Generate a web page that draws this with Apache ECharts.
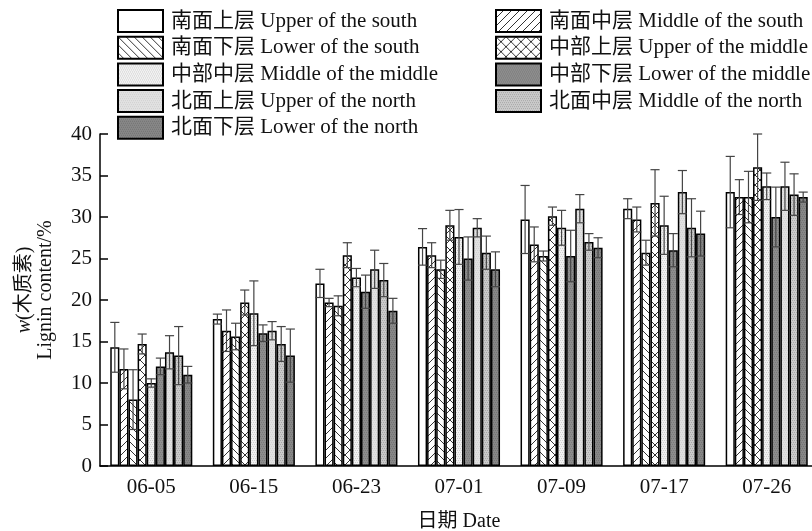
<!DOCTYPE html>
<html><head><meta charset="utf-8">
<script src="https://cdn.jsdelivr.net/npm/echarts@6/dist/echarts.min.js"></script>
<style>html,body{margin:0;padding:0;background:#fff}#c{width:812px;height:531px}</style>
</head><body><div id="c"></div>
<script>
const categories = ['06-05','06-15','06-23','07-01','07-09','07-17','07-26'];
const seriesNames = [
  '南面上层 Upper of the south','南面中层 Middle of the south','南面下层 Lower of the south',
  '中部上层 Upper of the middle','中部中层 Middle of the middle','中部下层 Lower of the middle',
  '北面上层 Upper of the north','北面中层 Middle of the north','北面下层 Lower of the north'
];
const upperSouth  = [14.3, 17.7, 22.0, 26.4, 29.7, 31.0, 33.0];
const middleSouth = [11.7, 16.3, 19.7, 25.4, 26.7, 29.7, 32.4];
const lowerSouth  = [8.0, 15.6, 19.3, 23.7, 25.3, 25.7, 32.4];
const upperMiddle = [14.7, 19.7, 25.4, 29.0, 30.1, 31.7, 36.0];
const middleMiddle= [10.0, 18.4, 22.7, 27.6, 28.7, 29.0, 33.7];
const lowerMiddle = [12.0, 16.0, 21.0, 25.0, 25.3, 26.0, 30.0];
const upperNorth  = [13.7, 16.3, 23.7, 28.7, 31.0, 33.0, 33.7];
const middleNorth = [13.3, 14.7, 22.4, 25.7, 27.0, 28.7, 32.7];
const lowerNorth  = [11.0, 13.3, 18.7, 23.7, 26.3, 28.0, 32.4];

const errUpperSouth  = [3.0, 0.6, 1.7, 2.2, 4.1, 1.2, 4.3];
const errMiddleSouth = [2.4, 2.5, 0.5, 1.5, 2.1, 1.5, 2.1];
const errLowerSouth  = [3.6, 1.6, 1.2, 1.1, 0.6, 1.5, 3.1];
const errUpperMiddle = [1.2, 1.5, 1.5, 1.8, 1.1, 4.0, 4.0];
const errMiddleMiddle= [0.5, 3.9, 1.1, 3.3, 2.1, 3.5, 1.6];
const errLowerMiddle = [1.0, 1.0, 2.0, 2.6, 3.1, 2.0, 3.6];
const errUpperNorth  = [2.0, 1.1, 2.3, 1.1, 1.7, 2.6, 2.9];
const errMiddleNorth = [3.5, 2.1, 2.0, 2.0, 1.0, 3.5, 2.5];
const errLowerNorth  = [1.0, 3.2, 1.5, 2.1, 1.2, 2.7, 0.6];

const yTicks = {min: 0, max: 40, interval: 5};

const means = [upperSouth, middleSouth, lowerSouth, upperMiddle, middleMiddle, lowerMiddle, upperNorth, middleNorth, lowerNorth];
const errs = [errUpperSouth, errMiddleSouth, errLowerSouth, errUpperMiddle, errMiddleMiddle, errLowerMiddle, errUpperNorth, errMiddleNorth, errLowerNorth];

function tile(w, h, bg, draw) {
  const c = document.createElement('canvas');
  c.width = w; c.height = h;
  const g = c.getContext('2d');
  g.fillStyle = bg; g.fillRect(0, 0, w, h);
  draw(g, w, h);
  return {image: c, repeat: 'repeat'};
}
function lines(g, segs, col, lw) {
  g.strokeStyle = col; g.lineWidth = lw;
  segs.forEach(s => { g.beginPath(); g.moveTo(s[0], s[1]); g.lineTo(s[2], s[3]); g.stroke(); });
}
function dots(g, w, h, col, step) {
  g.fillStyle = col;
  for (let y = 0; y < h; y += step) for (let x = (y / step) % 2; x < w; x += step) g.fillRect(x, y, 1, 1);
}
const fills = [
  '#ffffff',
  tile(8, 8, '#fff', g => lines(g, [[-1, 9, 9, -1], [-1, 1, 1, -1], [7, 9, 9, 7]], '#333', 1)),
  tile(8, 8, '#fff', g => lines(g, [[-1, -1, 9, 9], [7, -1, 9, 1], [-1, 7, 1, 9]], '#333', 1)),
  tile(10, 10, '#fff', g => lines(g, [[-1, -1, 11, 11], [9, -1, 11, 1], [-1, 9, 1, 11], [-1, 11, 11, -1], [-1, 1, 1, -1], [9, 11, 11, 9]], '#333', 1)),
  tile(4, 4, '#f1f1f1', (g, w, h) => dots(g, w, h, '#d0d0d0', 2)),
  tile(4, 4, '#8d8d8d', (g, w, h) => dots(g, w, h, '#7a7a7a', 2)),
  tile(4, 4, '#e1e1e1', (g, w, h) => dots(g, w, h, '#d2d2d2', 2)),
  tile(4, 4, '#cacaca', (g, w, h) => dots(g, w, h, '#a8a8a8', 2)),
  tile(4, 4, '#878787', (g, w, h) => dots(g, w, h, '#747474', 2))
];

const FONT = "'Liberation Serif', 'Noto Sans CJK SC', serif";
const chart = echarts.init(document.getElementById('c'), null, {renderer: 'canvas'});

const barSeries = seriesNames.map((n, i) => ({
  name: n, type: 'bar', data: means[i],
  barGap: '0%', barCategoryGap: '20%',
  itemStyle: {color: fills[i], borderColor: '#000', borderWidth: 1.5},
  emphasis: {disabled: true}
}));

const errData = [];
means.forEach((arr, s) => arr.forEach((v, c) => errData.push([c, v, errs[s][c], s])));

const errSeries = {
  type: 'custom', z: 5, silent: true,
  data: errData,
  encode: {x: 0, y: 1},
  renderItem: function (params, api) {
    const c = api.value(0), m = api.value(1), e = api.value(2), s = api.value(3);
    const band = api.size([1, 0])[0];
    const bw = band * 0.8 / 9;
    const center = api.coord([c, m])[0];
    const x = center - band * 0.4 + bw * (s + 0.5);
    const yHi = api.coord([c, m + e])[1];
    const yLo = api.coord([c, m - e])[1];
    const st = {stroke: '#444', lineWidth: 1.2};
    const hw = bw / 2;
    return {type: 'group', children: [
      {type: 'line', shape: {x1: x, y1: yHi, x2: x, y2: yLo}, style: st},
      {type: 'line', shape: {x1: x - hw, y1: yHi, x2: x + hw, y2: yHi}, style: st},
      {type: 'line', shape: {x1: x - hw, y1: yLo, x2: x + hw, y2: yLo}, style: st}
    ]};
  }
};

const legendCommon = {
  orient: 'vertical', padding: 0, itemWidth: 45, itemHeight: 22, itemGap: 2.7,
  icon: 'rect',
  itemStyle: {borderColor: '#000', borderWidth: 2},
  textStyle: {fontFamily: FONT, fontSize: 21, lineHeight: 22, color: '#111', padding: [0, 0, 0, 3]},
  selectedMode: false
};

chart.setOption({
  animation: false,
  backgroundColor: '#fff',
  textStyle: {fontFamily: FONT},
  legend: [
    Object.assign({left: 117, top: 9, data: [seriesNames[0], seriesNames[2], seriesNames[4], seriesNames[6], seriesNames[8]]}, legendCommon),
    Object.assign({left: 495, top: 9, data: [seriesNames[1], seriesNames[3], seriesNames[5], seriesNames[7]]}, legendCommon)
  ],
  grid: {left: 100, top: 134, width: 718, height: 332, containLabel: false, outerBoundsMode: 'none'},
  xAxis: {
    type: 'category', data: categories,
    axisLine: {lineStyle: {color: '#000', width: 1.5}},
    axisTick: {show: true, inside: true, alignWithLabel: true, length: 7, lineStyle: {color: '#000', width: 2}},
    axisLabel: {fontFamily: FONT, fontSize: 21, color: '#111', margin: 11},
    name: '日期 Date', nameLocation: 'middle', nameGap: 46,
    nameTextStyle: {fontFamily: FONT, fontSize: 20, color: '#111'}
  },
  yAxis: {
    type: 'value', min: yTicks.min, max: yTicks.max, interval: yTicks.interval,
    axisLine: {show: true, lineStyle: {color: '#000', width: 1.5}},
    axisTick: {show: true, inside: true, length: 8, lineStyle: {color: '#000', width: 1.5}},
    splitLine: {show: false},
    axisLabel: {fontFamily: FONT, fontSize: 21, color: '#111', margin: 8},
    name: '{i|w}(木质素)\nLignin content/%', nameLocation: 'middle', nameRotate: 90, nameGap: 44,
    nameTextStyle: {fontFamily: FONT, fontSize: 20, color: '#111', lineHeight: 21, padding: [0, 0, 0, 20],
      rich: {i: {fontFamily: FONT, fontSize: 20, fontStyle: 'italic', color: '#111'}}}
  },
  series: barSeries.concat([errSeries])
});
</script></body></html>
